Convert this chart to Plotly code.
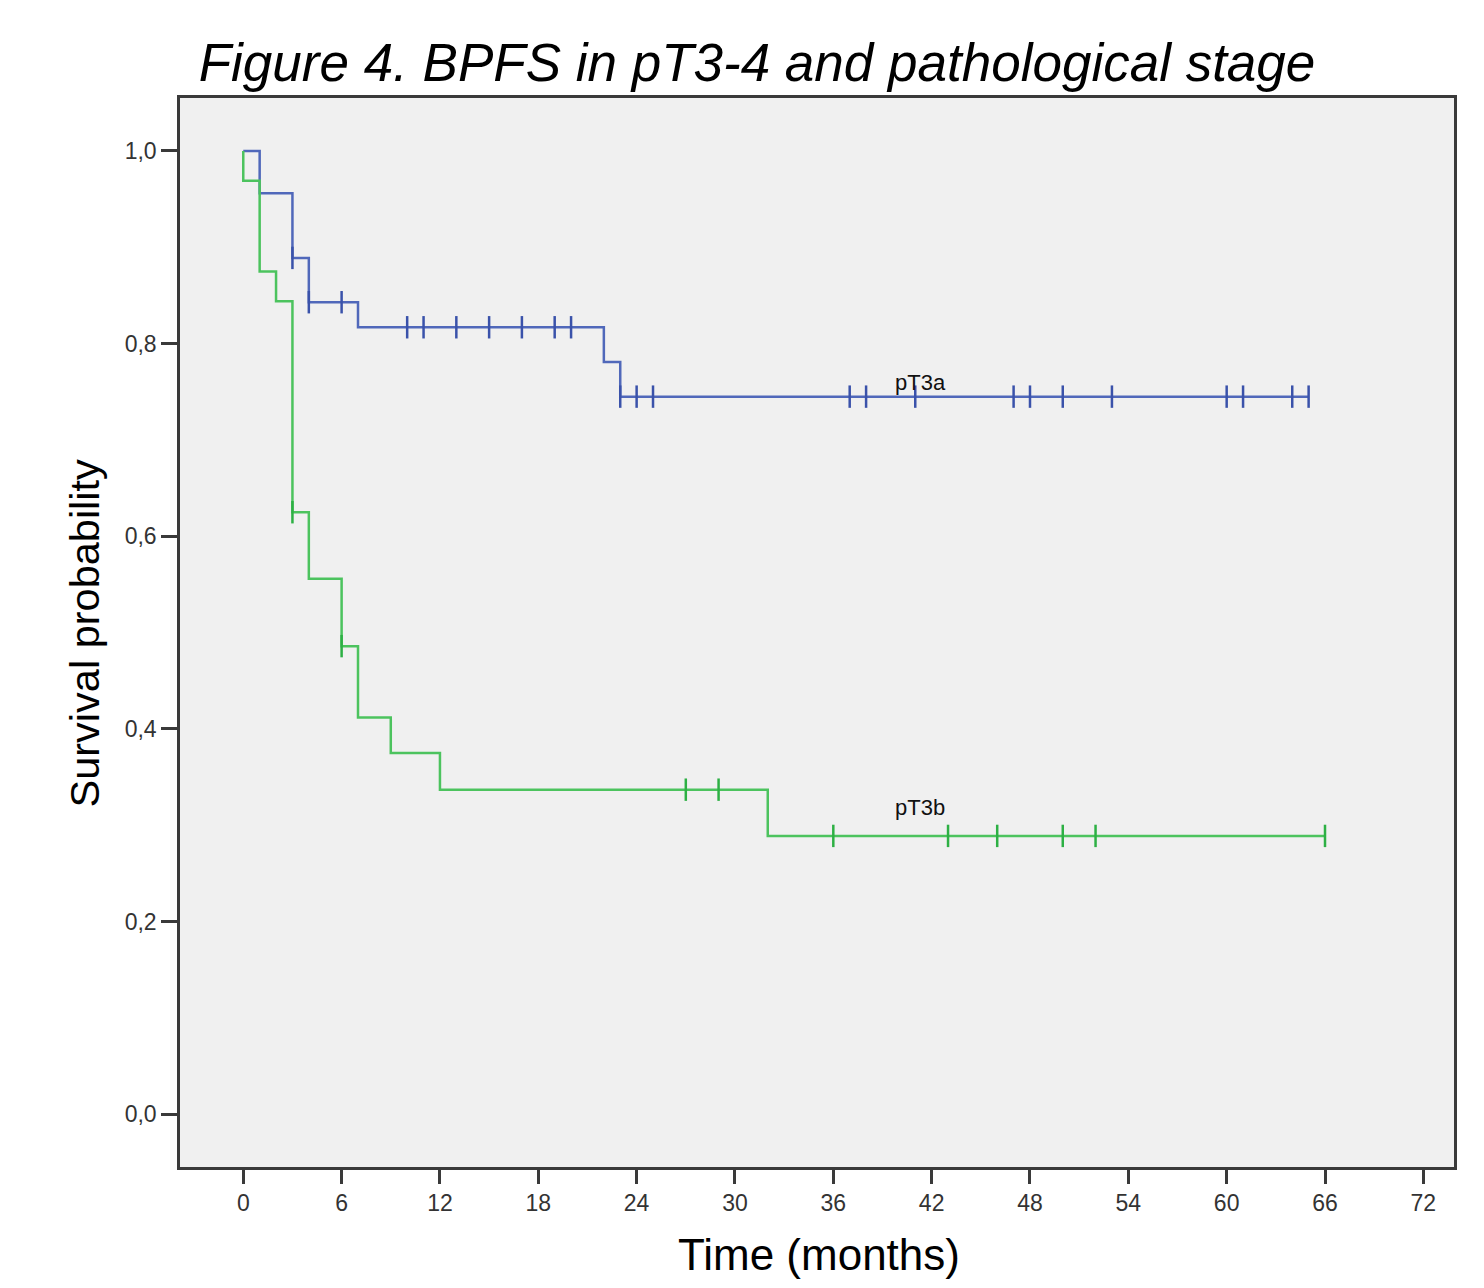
import plotly.graph_objects as go

# ---- data ----
pT3a_time = [0, 1, 3, 4, 7, 22, 23, 65]
pT3a_surv = [1.0, 0.956, 0.889, 0.843, 0.817, 0.781, 0.745, 0.745]
pT3a_censor = [3, 4, 6, 10, 11, 13, 15, 17, 19, 20, 23, 24, 25,
               37, 38, 41, 47, 48, 50, 53, 60, 61, 64, 65]

pT3b_time = [0, 0, 1, 2, 3, 4, 6, 7, 9, 12, 32, 66]
pT3b_surv = [1.0, 0.969, 0.875, 0.844, 0.625, 0.556, 0.486, 0.412, 0.375, 0.337, 0.289, 0.289]
pT3b_censor = [3, 6, 27, 29, 36, 43, 46, 50, 52, 66]

x_ticks = [0, 6, 12, 18, 24, 30, 36, 42, 48, 54, 60, 66, 72]
y_ticks = [0.0, 0.2, 0.4, 0.6, 0.8, 1.0]
y_ticklabels = ["0,0", "0,2", "0,4", "0,6", "0,8", "1,0"]

BLUE_LINE, BLUE_MARK = "#5068BA", "#3A52AA"
GREEN_LINE, GREEN_MARK = "#4CC35E", "#2DB044"
FONT = "Liberation Sans, Arial, sans-serif"

W, H = 1476, 1280  # page adds an 8px body margin


def surv_at(times, survs, t):
    val = survs[0]
    for ti, si in zip(times, survs):
        if ti <= t:
            val = si
    return val


fig = go.Figure()
for times, survs, cens, lc, mc in [
    (pT3a_time, pT3a_surv, pT3a_censor, BLUE_LINE, BLUE_MARK),
    (pT3b_time, pT3b_surv, pT3b_censor, GREEN_LINE, GREEN_MARK),
]:
    fig.add_trace(go.Scatter(
        x=times, y=survs, mode="lines", line=dict(color=lc, width=2.5, shape="hv"),
        showlegend=False, hoverinfo="skip"))
    fig.add_trace(go.Scatter(
        x=cens, y=[surv_at(times, survs, t) for t in cens], mode="markers",
        marker=dict(symbol="line-ns", size=16, line=dict(color=mc, width=2.5)),
        showlegend=False))

fig.add_annotation(x=41.3, y=0.760, text="pT3a", showarrow=False,
                   font=dict(family=FONT, size=22, color="#111"))
fig.add_annotation(x=41.3, y=0.319, text="pT3b", showarrow=False,
                   font=dict(family=FONT, size=22, color="#111"))

fig.add_annotation(xref="paper", yref="paper", x=0.5016, y=-0.0823,
                   xanchor="center", yanchor="middle",
                   text="Time (months)", showarrow=False,
                   font=dict(family=FONT, size=44, color="#000"))
fig.add_annotation(xref="paper", yref="paper", x=-0.0746, y=0.5,
                   xanchor="center", yanchor="middle",
                   text="Survival probability", textangle=-90, showarrow=False,
                   font=dict(family=FONT, size=41.5, color="#000"))

fig.update_layout(
    width=W, height=H,
    margin=dict(l=172, r=30, t=90, b=121),
    paper_bgcolor="white", plot_bgcolor="#F0F0F0",
    title=dict(text="<i>Figure 4. BPFS in pT3-4 and pathological stage</i>",
               x=749 / W, xref="container", y=1 - 54 / H, yref="container",
               xanchor="center", yanchor="middle",
               font=dict(family=FONT, size=53, color="#000")),
)
fig.update_xaxes(range=[-3.86, 73.87], tickvals=x_ticks, showgrid=False, zeroline=False,
                 showline=True, mirror=True, linecolor="#3a3a3a", linewidth=2.5,
                 ticks="outside", ticklen=14, tickwidth=2.5, tickcolor="#3a3a3a",
                 tickfont=dict(family=FONT, size=23, color="#333"))
fig.update_yaxes(range=[-0.0547, 1.055], tickvals=y_ticks, ticktext=y_ticklabels,
                 showgrid=False, zeroline=False,
                 showline=True, mirror=True, linecolor="#3a3a3a", linewidth=2.5,
                 ticks="outside", ticklen=16, tickwidth=2.5, tickcolor="#3a3a3a",
                 tickfont=dict(family=FONT, size=23, color="#333"))

fig.write_html("out.html")
